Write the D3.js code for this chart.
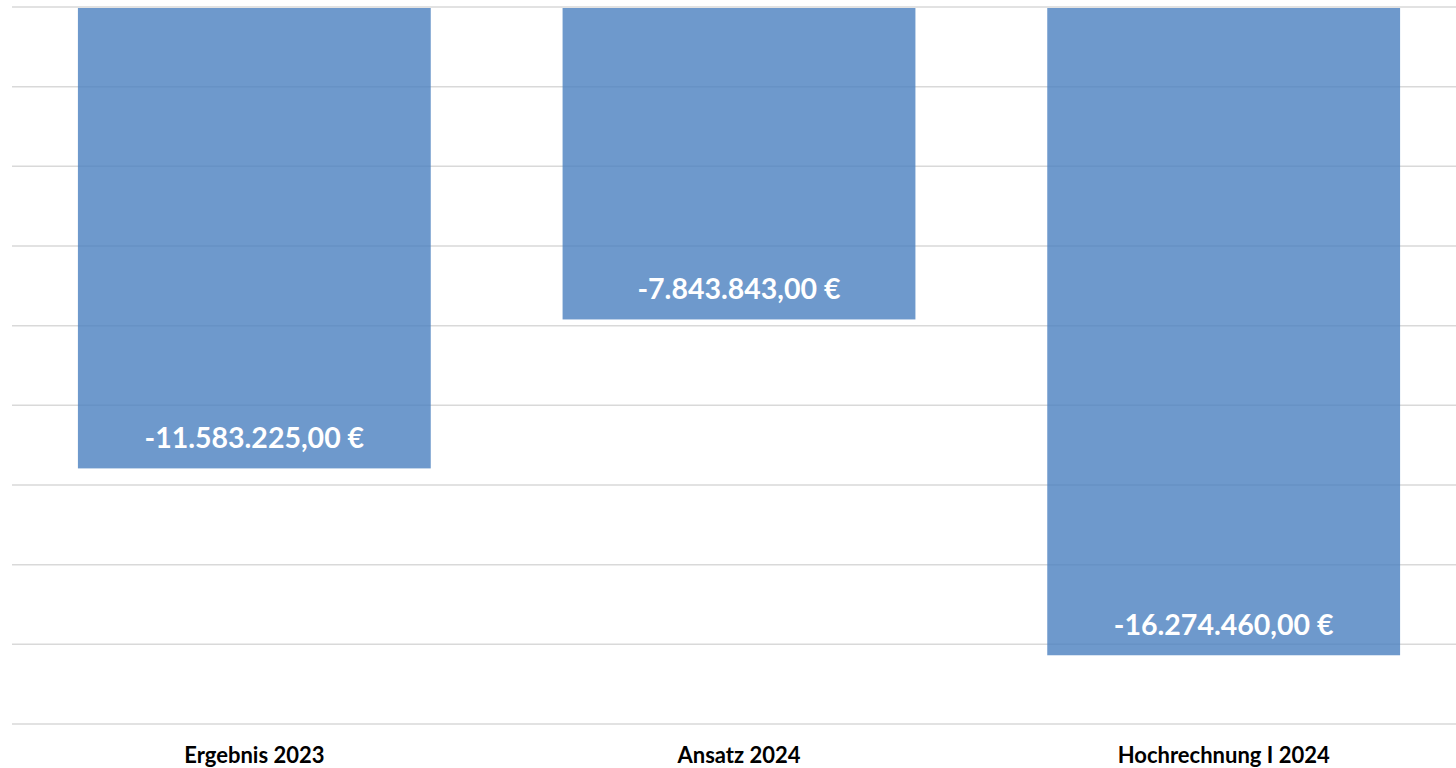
<!DOCTYPE html>
<html><head><meta charset="utf-8">
<script src="https://cdn.jsdelivr.net/npm/d3@7/dist/d3.min.js"></script>
<style>html,body{margin:0;padding:0;background:#fff;overflow:hidden}</style>
</head><body>
<svg id="c" width="1456" height="768"></svg>
<script>
const categories = ["Ergebnis 2023", "Ansatz 2024", "Hochrechnung I 2024"];
const values = [-11583225.00, -7843843.00, -16274460.00];
const gridTicks = [0, -2000000, -4000000, -6000000, -8000000, -10000000, -12000000, -14000000, -16000000, -18000000];

const svg = d3.select("#c");
const W = 1456, H = 768;
const x = d3.scaleBand().domain(categories).range([12, 1466]).paddingInner(0.272).paddingOuter(0.136);
const y = d3.scaleLinear().domain([0, -18000000]).range([7, 724]);

const fmt = v => {
  const s = d3.format(",.2f")(Math.abs(v));
  const de = s.replace(/,/g, "#").replace(".", ",").replace(/#/g, ".");
  return (v < 0 ? "-" : "") + de + " €";
};

svg.append("g").selectAll("line").data(gridTicks).join("line")
  .attr("x1", 12).attr("x2", W)
  .attr("y1", d => y(d)).attr("y2", d => y(d))
  .attr("stroke", "#d9d9d9").attr("stroke-width", 1.5);

svg.append("g").selectAll("rect").data(values).join("rect")
  .attr("x", (d, i) => x(categories[i]))
  .attr("width", x.bandwidth())
  .attr("y", y(0) + 1)
  .attr("height", d => y(d) - y(0) - 1)
  .attr("fill", "#4a7fbf").attr("fill-opacity", 0.8);

svg.append("g").selectAll("text").data(values).join("text")
  .attr("x", (d, i) => x(categories[i]) + x.bandwidth() / 2)
  .attr("y", d => y(d) - 20)
  .attr("text-anchor", "middle")
  .attr("font-family", "Lato, 'Open Sans', sans-serif")
  .attr("font-weight", "bold").attr("font-size", 28.5)
  .attr("fill", "#fff")
  .text(d => fmt(d));

const xAxis = d3.axisBottom(x).tickSize(0).tickPadding(0);
const ax = svg.append("g").attr("transform", "translate(0,763)").call(xAxis);
ax.select(".domain").remove();
ax.selectAll("text")
  .attr("y", 0).attr("dy", "0")
  .attr("font-family", "Lato, 'Open Sans', sans-serif")
  .attr("font-weight", "bold").attr("font-size", 22)
  .attr("fill", "#000");
</script>
</body></html>
